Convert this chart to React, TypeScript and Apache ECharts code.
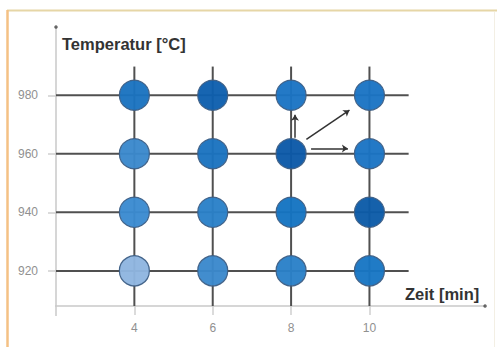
import React, { useEffect, useRef } from "react";
import * as echarts from "echarts";

const times = [4, 6, 8, 10];
const temps = [920, 940, 960, 980];
// fill colour of each circle, rows by temperature (920..980), columns by time (4..10)
const circleColors: string[][] = [
  ["#8fb5e0", "#3a88cc", "#2a80c8", "#1776c4"], // 920
  ["#3a8ad0", "#2a80c8", "#1474c2", "#0b5ba8"], // 940
  ["#3a88cc", "#1a72c0", "#0b58a8", "#1a74c4"], // 960
  ["#1a72c0", "#0e5fae", "#1a74c4", "#1a74c4"], // 980
];
const arrows: number[][][] = [
  [[8.1, 965.5], [8.1, 973.3]],
  [[8.39, 964.9], [9.49, 974.9]],
  [[8.51, 961.8], [9.45, 961.8]],
];
const xTitle = "Zeit [min]";
const yTitle = "Temperatur [°C]";

export default function App() {
  const ref = useRef<HTMLDivElement>(null);
  useEffect(() => {
    if (!ref.current) return;
    const chart = echarts.init(ref.current, undefined, { renderer: "svg" });
    const series: any[] = [];
    // axis lines
    series.push({
      type: "line",
      clip: false,
      silent: true,
      symbol: "none",
      data: [[2, 904.6], [2, 1003.3]],
      lineStyle: { color: "#c8c8c8", width: 1.5 },
      z: 1,
    });
    series.push({
      type: "line",
      clip: false,
      silent: true,
      symbol: "none",
      data: [[1.57, 908], [12.95, 908]],
      lineStyle: { color: "#c8c8c8", width: 1.5 },
      z: 1,
    });
    series.push({
      type: "scatter",
      clip: false,
      silent: true,
      symbol: "circle",
      symbolSize: 3.5,
      data: [[2, 1003.3], [12.95, 908]],
      itemStyle: { color: "#444" },
      z: 2,
    });
    // dark grid lines through the circles
    temps.forEach((t) => {
      series.push({
        type: "line",
        silent: true,
        symbol: "none",
        data: [[2, t], [11, t]],
        lineStyle: { color: "#505050", width: 2 },
        z: 2,
      });
    });
    times.forEach((m) => {
      series.push({
        type: "line",
        silent: true,
        symbol: "none",
        data: [[m, 908], [m, 989.8]],
        lineStyle: { color: "#505050", width: 2 },
        z: 2,
      });
    });
    // circles
    const pts: any[] = [];
    temps.forEach((t, i) => {
      times.forEach((m, j) => {
        pts.push({ value: [m, t], itemStyle: { color: circleColors[i][j] } });
      });
    });
    series.push({
      type: "scatter",
      symbolSize: 30,
      data: pts,
      itemStyle: { borderColor: "#3d5f85", borderWidth: 1.2, opacity: 0.96 },
      zlevel: 1,
      z: 10,
    });
    // arrows
    series.push({
      type: "lines",
      coordinateSystem: "cartesian2d",
      silent: true,
      symbol: ["none", "arrow"],
      symbolSize: 6,
      lineStyle: { color: "#333", width: 1.5, opacity: 1 },
      data: arrows.map((c) => ({ coords: c })),
      zlevel: 1,
      z: 12,
    });

    chart.setOption({
      animation: false,
      backgroundColor: "#ffffff",
      grid: { left: 56, right: 10, top: 25, bottom: 41 },
      xAxis: {
        type: "value",
        min: 2,
        max: 13,
        axisLine: { show: false },
        splitLine: { show: false },
        axisTick: {
          show: true,
          length: 9,
          customValues: times,
          lineStyle: { color: "#cfcfcf", width: 1.5 },
        },
        axisLabel: {
          customValues: times,
          margin: 16,
          color: "#909090",
          fontSize: 12,
          fontFamily: "Liberation Sans, Arial, sans-serif",
        },
      },
      yAxis: {
        type: "value",
        min: 908,
        max: 1004,
        axisLine: { show: false },
        splitLine: { show: false },
        axisTick: {
          show: true,
          length: 8,
          customValues: temps,
          lineStyle: { color: "#cfcfcf", width: 1.5 },
        },
        axisLabel: {
          customValues: temps,
          margin: 18,
          color: "#909090",
          fontSize: 12,
          fontFamily: "Liberation Sans, Arial, sans-serif",
        },
      },
      graphic: [
        {
          type: "line",
          shape: { x1: 7, y1: 10.5, x2: 497, y2: 10.5 },
          style: { stroke: "#e6d6a6", lineWidth: 2 },
          silent: true,
        },
        {
          type: "line",
          shape: { x1: 7.5, y1: 10, x2: 7.5, y2: 347 },
          style: { stroke: "#f4c184", lineWidth: 2.5 },
          silent: true,
        },
        {
          type: "line",
          shape: { x1: 494.5, y1: 12, x2: 494.5, y2: 347 },
          style: { stroke: "#f3efe4", lineWidth: 1 },
          silent: true,
        },
        {
          type: "text",
          left: 62,
          top: 35,
          style: {
            text: yTitle,
            font: "bold 16.5px 'Liberation Sans', Arial, sans-serif",
            fill: "#333",
          },
        },
        {
          type: "text",
          left: 405,
          top: 285,
          style: {
            text: xTitle,
            font: "bold 16.5px 'Liberation Sans', Arial, sans-serif",
            fill: "#333",
          },
        },
      ],
      series,
    });
    return () => chart.dispose();
  }, []);
  return (
    <div
      ref={ref}
      style={{ position: "fixed", left: 0, top: 0, width: 497, height: 347 }}
    />
  );
}
